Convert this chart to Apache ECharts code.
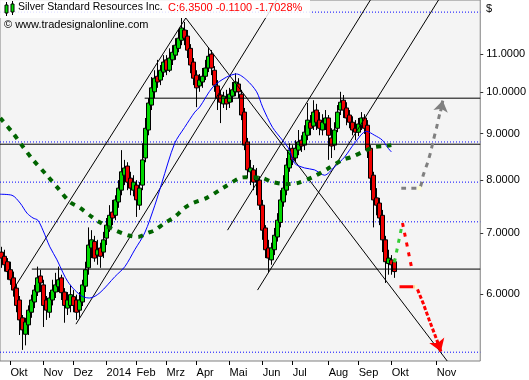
<!DOCTYPE html>
<html><head><meta charset="utf-8">
<script src="https://cdn.jsdelivr.net/npm/echarts@6/dist/echarts.min.js"></script>
<style>html,body{margin:0;padding:0;background:#fff}#c{width:529px;height:380px}</style>
</head><body><div id="c"></div>
<script>
// ---- data ----
const monthNames = ['Okt','Nov','Dez','2014','Feb','Mrz','Apr','Mai','Jun','Jul','Aug','Sep','Okt','Nov'];
const monthIdx   = [3,14,24,35,45,55,65,76,87,97,109,119,130,145];
const slotCount = 160;
const yTicks = [6,7,8,9,10,11];
// candles: [open, close, low, high]
const candles = [
[6.67,6.57,6.41,6.76],[6.60,6.46,6.35,6.71],[6.51,6.35,6.22,6.57],[6.38,6.22,6.14,6.51],[6.25,6.06,5.96,6.35],
[6.09,5.83,5.73,6.14],[5.91,5.62,5.41,5.97],[5.65,5.48,5.21,5.69],[5.42,5.59,5.27,5.65],[5.55,5.76,5.41,5.83],
[5.73,5.91,5.65,5.99],[5.88,6.06,5.79,6.14],[6.03,6.25,5.97,6.43],[6.28,6.17,6.03,6.38],[6.14,5.83,5.52,6.22],
[5.91,5.76,5.62,5.97],[5.73,5.94,5.65,6.03],[5.91,6.06,5.83,6.22],[6.03,6.14,5.94,6.33],[6.11,6.22,6.03,6.43],
[6.25,6.02,5.91,6.30],[6.03,5.83,5.58,6.09],[5.79,5.91,5.69,6.03],[5.83,5.99,5.73,6.14],[5.96,5.83,5.73,6.06],
[5.91,5.73,5.62,5.99],[5.76,5.91,5.65,6.03],[5.88,6.14,5.82,6.22],[6.12,6.38,6.03,6.51],[6.41,6.79,6.30,7.10],
[6.74,6.88,6.57,7.05],[6.85,6.57,6.51,6.95],[6.62,6.71,6.46,6.88],[6.74,6.60,6.41,6.83],[6.67,6.88,6.57,7.02],
[6.91,7.14,6.79,7.27],[7.09,7.32,7.02,7.51],[7.38,7.27,7.14,7.61],[7.32,7.61,7.23,7.70],[7.57,7.84,7.46,8.00],
[7.80,8.17,7.70,8.63],[8.10,8.25,7.90,8.42],[8.29,7.96,7.80,8.37],[8.04,7.84,7.70,8.17],[7.80,7.96,7.68,8.10],
[7.90,7.61,7.29,8.00],[7.51,7.84,7.42,7.96],[7.90,8.42,7.80,8.78],[8.46,9.12,8.37,9.36],[9.08,9.72,8.96,9.84],
[9.67,10.10,9.55,10.38],[10.00,10.35,9.84,10.56],[10.40,10.25,10.10,10.84],[10.30,10.56,10.17,10.70],[10.51,10.78,10.38,10.97],
[10.84,10.56,10.43,10.97],[10.56,10.89,10.51,11.16],[10.84,11.05,10.70,11.25],[10.97,11.25,10.84,11.45],[11.16,11.45,11.05,11.69],
[11.39,11.75,11.25,12.05],[11.69,11.45,11.25,11.93],[11.51,11.11,10.89,11.69],[11.16,10.70,10.48,11.28],[10.78,10.35,10.17,10.89],
[10.43,10.10,9.62,10.56],[10.15,10.30,10.00,10.46],[10.25,10.40,10.10,10.62],[10.40,10.62,10.30,10.84],[10.62,10.94,10.51,11.19],
[11.00,10.62,10.43,11.11],[10.56,10.17,10.00,10.67],[10.15,9.84,9.55,10.30],[9.92,9.74,9.24,10.05],[9.70,9.89,9.60,10.00],
[9.84,9.70,9.55,10.05],[9.74,9.94,9.60,10.10],[9.89,10.05,9.74,10.25],[10.00,10.25,9.89,10.48],[10.20,10.00,9.84,10.35],
[9.94,9.43,9.31,10.05],[9.50,8.74,8.63,9.60],[8.81,8.21,8.04,8.90],[8.17,8.25,7.90,8.42],[8.21,7.96,7.80,8.31],
[8.00,8.04,7.70,8.25],[8.00,7.51,7.42,8.08],[7.51,7.05,6.88,7.61],[7.09,6.71,6.57,7.14],[6.74,6.57,6.33,6.88],
[6.54,6.74,6.46,6.83],[6.71,6.96,6.62,7.09],[6.93,7.23,6.85,7.36],[7.19,7.61,7.10,7.80],[7.57,7.84,7.48,8.10],
[7.80,8.31,7.70,8.46],[8.25,8.63,8.17,8.78],[8.67,8.42,8.31,8.74],[8.46,8.67,8.37,8.85],[8.63,8.81,8.52,9.08],
[8.85,8.72,8.59,8.96],[8.74,9.03,8.63,9.19],[8.96,9.31,8.85,9.72],[9.26,9.12,8.96,9.43],[9.17,9.50,9.08,9.79],
[9.55,9.26,9.08,9.70],[9.31,9.12,8.96,9.50],[9.08,9.26,8.96,9.45],[9.22,9.36,9.08,9.55],[9.36,8.96,8.42,9.43],
[8.90,8.72,8.46,9.12],[8.74,9.08,8.63,9.26],[9.12,9.50,9.03,9.67],[9.55,9.74,9.43,10.00],[9.79,9.55,9.36,9.92],
[9.60,9.36,9.19,9.74],[9.43,9.26,9.12,9.55],[9.26,9.08,8.96,9.40],[9.12,9.03,8.85,9.31],[9.03,9.22,8.94,9.36],
[9.19,9.36,9.08,9.50],[9.36,9.12,8.99,9.45],[9.19,8.63,8.46,9.31],[8.67,8.04,7.80,8.74],[8.10,7.61,7.10,8.17],
[7.65,7.51,7.32,7.84],[7.55,7.27,7.14,7.65],[7.32,6.88,6.67,7.42],[6.88,6.51,6.17,6.95],[6.48,6.57,6.30,6.71],
[6.54,6.46,6.30,6.62],[6.51,6.35,6.25,6.56]
];
// moving averages: [bar index, price]
const maBlue = [[-0.5,7.72],[3.5,7.70],[6.2,7.55],[8.5,7.36],[10.5,7.27],[12.1,7.23],[13.8,7.05],[16.1,6.76],[18.5,6.54],[20.5,6.33],[22.1,6.19],[24.4,6.06],[27.1,5.96],[29.4,5.94],[32.8,6.02],[37.8,6.27],[41.1,6.43],[44.4,6.71],[47.7,7.00],[51.1,7.51],[53.4,7.94],[57.7,8.78],[61.0,9.14],[64.4,9.50],[66.0,9.62],[70.4,10.12],[75.0,10.38],[78.3,10.46],[81.7,10.30],[85.0,10.00],[87.0,9.62],[90.3,9.14],[93.6,8.85],[96.0,8.63],[97.6,8.35],[101.0,8.25],[104.3,8.21],[107.6,8.10],[110.9,8.27],[114.3,8.48],[117.6,8.78],[121.6,9.05],[124.3,8.96],[126.9,8.85],[128.6,8.69],[129.9,8.59]];
const maGreen = [[-0.4,9.36],[3.8,9.01],[7.2,8.70],[10.5,8.42],[15.1,8.10],[18.8,7.84],[22.8,7.57],[26.1,7.46],[30.1,7.29],[32.1,7.21],[37.8,7.05],[42.1,6.96],[45.4,6.93],[48.7,7.00],[51.1,7.05],[54.4,7.18],[57.7,7.29],[61.0,7.46],[63.7,7.55],[68.4,7.65],[73.7,7.84],[79.3,8.04],[81.7,8.06],[87.0,8.04],[90.3,7.96],[95.3,7.92],[98.6,7.94],[103.6,8.06],[108.6,8.23],[113.6,8.42],[116.6,8.48],[121.6,8.63],[124.3,8.70],[127.6,8.72],[129.9,8.74]];
// trend lines [[x1,p1],[x2,p2]]
const trendLines = [
  [[3.8,6.06],[61.4,12.05]],
  [[61.4,12.05],[148.5,5.066]],
  [[24.8,5.56],[91.7,12.61]],
  [[75.3,7.05],[122.9,12.61]],
  [[85.3,6.06],[145.6,12.61]]
];
// horizontal levels [from, to, price]
const hLines = [[47.7,159.5,9.84],[-0.5,159.5,8.76],[10.1,159.5,6.39]];
const dotLevels = [12.23, 8.81, 7.96, 7.20, 5.18];
// projections
const projGray = [[133.2,7.84],[139.2,7.84],[140.5,8.10],[141.9,8.35],[142.9,8.57],[143.9,8.85],[144.9,9.12],[145.9,9.43],[146.6,9.62]];
const projGrayTip = [[146.3,9.52],[147.0,9.78]];
const projRedFlat = [[132.6,6.11],[137.8,6.11]];
const projRedDown = [[138.6,6.07],[140.5,5.86],[142.5,5.62],[144.5,5.40],[145.6,5.28]];
const projRedTip = [[145.2,5.32],[146.4,5.19]];
const projGreenUp = [[130.9,6.50],[133.6,7.18]];
const projRedSmall = [[133.6,7.18],[136.6,6.42]];
const title = 'Silver Standard Resources Inc.';
const quote = 'C:6.3500 -0.1100 -1.7028%';
const source = '© www.tradesignalonline.com';

// ---- chart ----
const FONT = '"Liberation Sans", Arial, sans-serif';
const cats = Array.from({length: slotCount}, (_, i) => {
  const k = monthIdx.indexOf(i); return k >= 0 ? monthNames[k] : '';
});
const isMonth = (i) => monthIdx.indexOf(i) >= 0;

const series = [];
dotLevels.forEach(v => series.push({
  type:'line', xAxisIndex:1, data:[[-0.5,v],[159.5,v]], symbol:'none', silent:true, z:1,
  lineStyle:{color:'#0000ff', width:1, type:[1,2]}
}));
series.push({
  type:'candlestick', xAxisIndex:0, data:candles, barWidth:4, z:2,
  itemStyle:{color:'#00d800', color0:'#f00000', borderColor:'#000', borderColor0:'#000', borderWidth:1}
});
hLines.forEach(h => series.push({
  type:'line', xAxisIndex:1, data:[[h[0],h[2]],[h[1],h[2]]], symbol:'none', silent:true, z:3,
  lineStyle:{color:'#000', width:1}
}));
trendLines.forEach(t => series.push({
  type:'line', xAxisIndex:1, data:t, symbol:'none', silent:true, z:3, clip:true,
  lineStyle:{color:'#000', width:1}
}));
series.push({type:'line', xAxisIndex:1, data:maBlue, symbol:'none', smooth:0.3, z:4,
  lineStyle:{color:'#0000ff', width:1}});
series.push({type:'line', xAxisIndex:1, data:maGreen, symbol:'none', smooth:0.3, z:5,
  lineStyle:{color:'#006400', width:4, type:[5,6]}});
series.push({type:'line', xAxisIndex:1, data:projGray, symbol:'none', smooth:0.2, z:6,
  lineStyle:{color:'#808080', width:3, type:[5,5]}});
series.push({type:'lines', coordinateSystem:'cartesian2d', xAxisIndex:1, yAxisIndex:0, z:7,
  symbol:['none','arrow'], symbolSize:11,
  data:[{coords:projGrayTip}], lineStyle:{color:'#808080', width:3, opacity:1}});
series.push({type:'line', xAxisIndex:1, data:projRedFlat, symbol:'none', z:6,
  lineStyle:{color:'#ff0000', width:3}});
series.push({type:'line', xAxisIndex:1, data:projRedDown, symbol:'none', z:6,
  lineStyle:{color:'#ff0000', width:3, type:[4,2]}});
series.push({type:'lines', coordinateSystem:'cartesian2d', xAxisIndex:1, yAxisIndex:0, z:7,
  symbol:['none','arrow'], symbolSize:12,
  data:[{coords:projRedTip}], lineStyle:{color:'#ff0000', width:3, opacity:1}});
series.push({type:'line', xAxisIndex:1, data:projGreenUp, symbol:'none', z:6,
  lineStyle:{color:'#33cc33', width:3, type:[4,6]}});
series.push({type:'line', xAxisIndex:1, data:projRedSmall, symbol:'none', z:6,
  lineStyle:{color:'#ff0000', width:3, type:[4,6]}});
series.push({type:'scatter', xAxisIndex:1, data:[projGray[1], projRedFlat[1]], symbol:'rect', symbolSize:4, z:8,
  itemStyle:{color:'#ffffcc'}});

const chart = echarts.init(document.getElementById('c'), null, {renderer:'canvas'});
chart.setOption({
  animation:false,
  backgroundColor:'#ffffff',
  grid:{left:0, right:48, top:0, bottom:19, show:true, backgroundColor:'#f4f4f4', borderColor:'#808080', borderWidth:1},
  xAxis:[{
    type:'category', data:cats, boundaryGap:true,
    axisLine:{show:false, onZero:false},
    axisTick:{show:true, alignWithLabel:true, interval:(i)=>isMonth(i), length:4, lineStyle:{color:'#000'}},
    axisLabel:{interval:(i)=>isMonth(i), align:'left', margin:6, fontSize:11, color:'#000', fontFamily:FONT},
    splitLine:{show:false}
  },{
    type:'value', min:-0.5, max:159.5, show:false
  }],
  yAxis:{
    type:'log', logBase:10, min:5.066, max:12.61, position:'right',
    axisLine:{show:false, onZero:false},
    splitLine:{show:false},
    axisTick:{show:true, customValues:yTicks, length:3, lineStyle:{color:'#333'}},
    axisLabel:{customValues:yTicks, formatter:(v)=>Number(v).toFixed(4), margin:6, fontSize:11, color:'#000', fontFamily:FONT}
  },
  series: series,
  graphic:[
    {type:'rect', left:0, top:0, z:100, shape:{width:310, height:18}, style:{fill:'rgba(255,255,255,0.85)'}},
    {type:'line', z:101, shape:{x1:6.5,y1:2,x2:6.5,y2:16}, style:{stroke:'#000', lineWidth:1}},
    {type:'rect', z:102, shape:{x:5,y:5,width:3,height:8}, style:{fill:'#00e000', stroke:'#000', lineWidth:1}},
    {type:'line', z:101, shape:{x1:12.5,y1:1,x2:12.5,y2:15}, style:{stroke:'#000', lineWidth:1}},
    {type:'rect', z:102, shape:{x:11,y:4,width:3,height:8}, style:{fill:'#00e000', stroke:'#000', lineWidth:1}},
    {type:'text', z:103, left:18, top:2, style:{text:title, font:'10.5px '+FONT, fill:'#000'}},
    {type:'text', z:103, left:168, top:2, style:{text:quote, font:'11px '+FONT, fill:'#ff0000'}},
    {type:'text', z:103, left:4, top:19, style:{text:source, font:'11px '+FONT, fill:'#000'}},
    {type:'text', z:103, left:486, top:3, style:{text:'$', font:'11px '+FONT, fill:'#000'}}
  ]
});
</script>
</body></html>
